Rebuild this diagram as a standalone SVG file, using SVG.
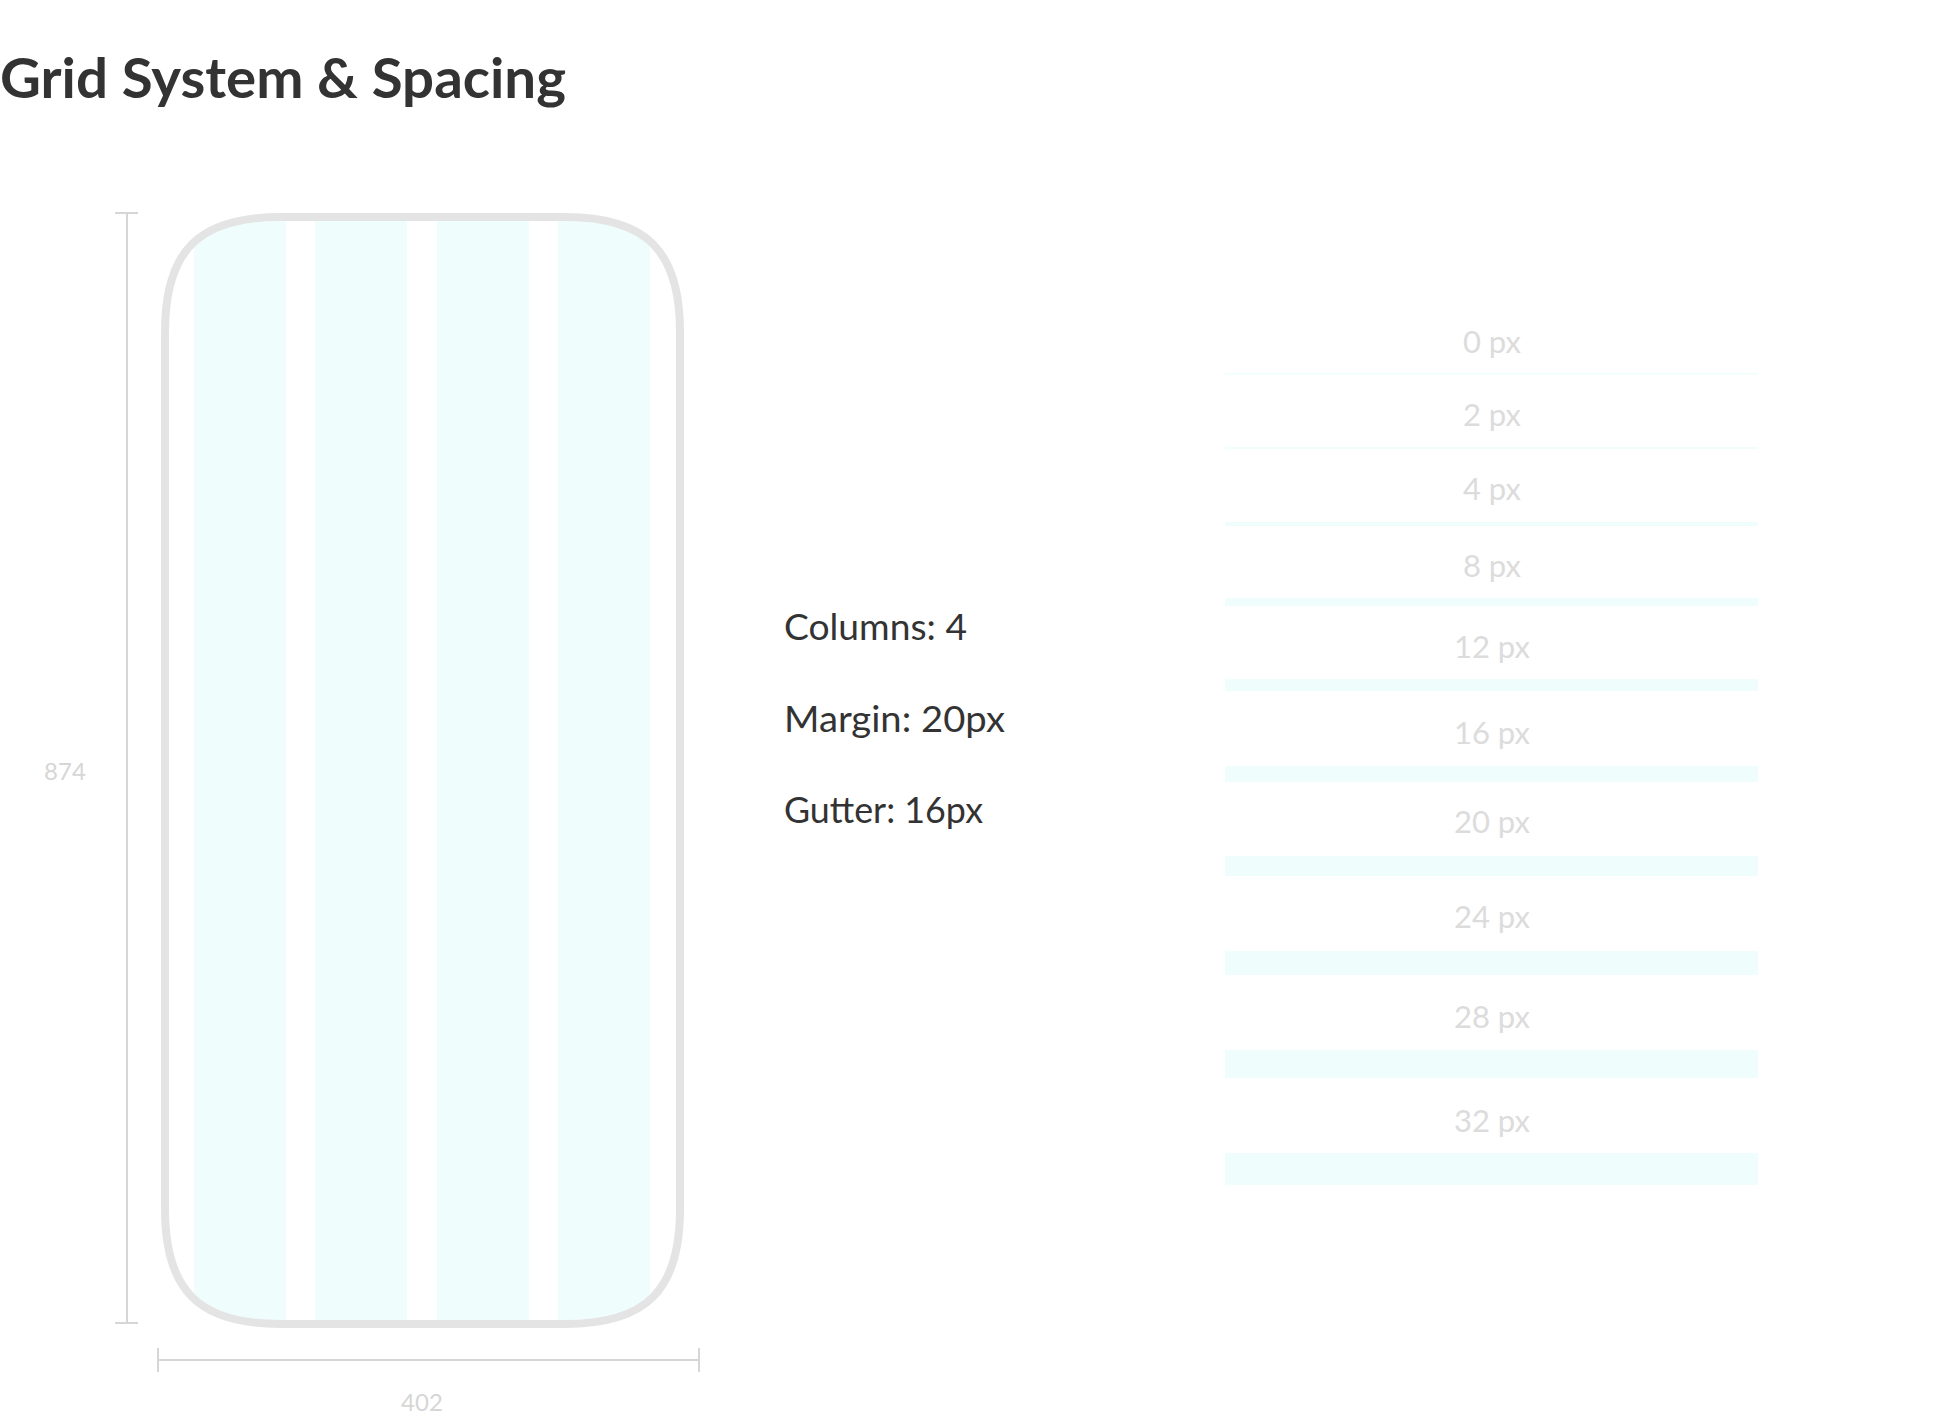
<svg xmlns="http://www.w3.org/2000/svg" width="1948" height="1423" viewBox="0 0 1948 1423">
<style>
.title{font-family:Lato,"Liberation Sans",sans-serif;font-weight:700;font-size:56px;fill:#333333}
.info{font-family:Lato,"Liberation Sans",sans-serif;font-size:36px;fill:#333333}
.dim{font-family:Lato,"Liberation Sans",sans-serif;font-size:24px;fill:#d6d6d6;text-anchor:middle}
.lbl{font-family:Lato,"Liberation Sans",sans-serif;font-size:31px;fill:#dcdcdc;text-anchor:middle}
.col{fill:#effdfd}
.bar{fill:#effdfd}
.dl{stroke:#d6d6d6;stroke-width:2;fill:none}
</style>
<defs>
<clipPath id="inner"><path d="M169 332C169 253 201 221 280 221H565C644 221 676 253 676 332V1209C676 1288 644 1320 565 1320H280C201 1320 169 1288 169 1209Z"/></clipPath>
</defs>
<rect width="1948" height="1423" fill="#ffffff"/>
<text class="title" x="0" y="98" textLength="566" lengthAdjust="spacingAndGlyphs">Grid System &amp; Spacing</text>

<g id="phone">
<g clip-path="url(#inner)">
<rect class="col" x="194" y="221" width="92" height="1099"/>
<rect class="col" x="315.3" y="221" width="92" height="1099"/>
<rect class="col" x="436.7" y="221" width="92" height="1099"/>
<rect class="col" x="558" y="221" width="92" height="1099"/>
</g>
<path d="M165 332C165 250.7 198.7 217 280 217H565C646.3 217 680 250.7 680 332V1209C680 1290.3 646.3 1324 565 1324H280C198.7 1324 165 1290.3 165 1209Z" fill="none" stroke="#e4e4e4" stroke-width="8"/>
</g>

<g id="dimensions">
<path class="dl" d="M127 213V1323M115 213H138M115 1323H138"/>
<text class="dim" x="65" y="780">874</text>
<path class="dl" d="M158 1360H699M158 1348V1372M699 1348V1372"/>
<text class="dim" x="422" y="1411">402</text>
</g>

<g id="grid-info">
<text class="info" x="784" y="640" textLength="183" lengthAdjust="spacingAndGlyphs">Columns: 4</text>
<text class="info" x="784" y="732" textLength="221" lengthAdjust="spacingAndGlyphs">Margin: 20px</text>
<text class="info" x="784" y="823" textLength="199" lengthAdjust="spacingAndGlyphs">Gutter: 16px</text>
</g>

<g id="spacing">
<g id="sp0"><text class="lbl" x="1492" y="353">0 px</text><rect class="bar" x="1225" y="373" width="533" height="1.5"/></g>
<g id="sp2"><text class="lbl" x="1492" y="426">2 px</text><rect class="bar" x="1225" y="447" width="533" height="2"/></g>
<g id="sp4"><text class="lbl" x="1492" y="500">4 px</text><rect class="bar" x="1225" y="522" width="533" height="4"/></g>
<g id="sp8"><text class="lbl" x="1492" y="577">8 px</text><rect class="bar" x="1225" y="598" width="533" height="8"/></g>
<g id="sp12"><text class="lbl" x="1492" y="658">12 px</text><rect class="bar" x="1225" y="679" width="533" height="12"/></g>
<g id="sp16"><text class="lbl" x="1492" y="744">16 px</text><rect class="bar" x="1225" y="766" width="533" height="16"/></g>
<g id="sp20"><text class="lbl" x="1492" y="833">20 px</text><rect class="bar" x="1225" y="856" width="533" height="20"/></g>
<g id="sp24"><text class="lbl" x="1492" y="928">24 px</text><rect class="bar" x="1225" y="951" width="533" height="24"/></g>
<g id="sp28"><text class="lbl" x="1492" y="1028">28 px</text><rect class="bar" x="1225" y="1050" width="533" height="28"/></g>
<g id="sp32"><text class="lbl" x="1492" y="1132">32 px</text><rect class="bar" x="1225" y="1153" width="533" height="32"/></g>
</g>
</svg>
